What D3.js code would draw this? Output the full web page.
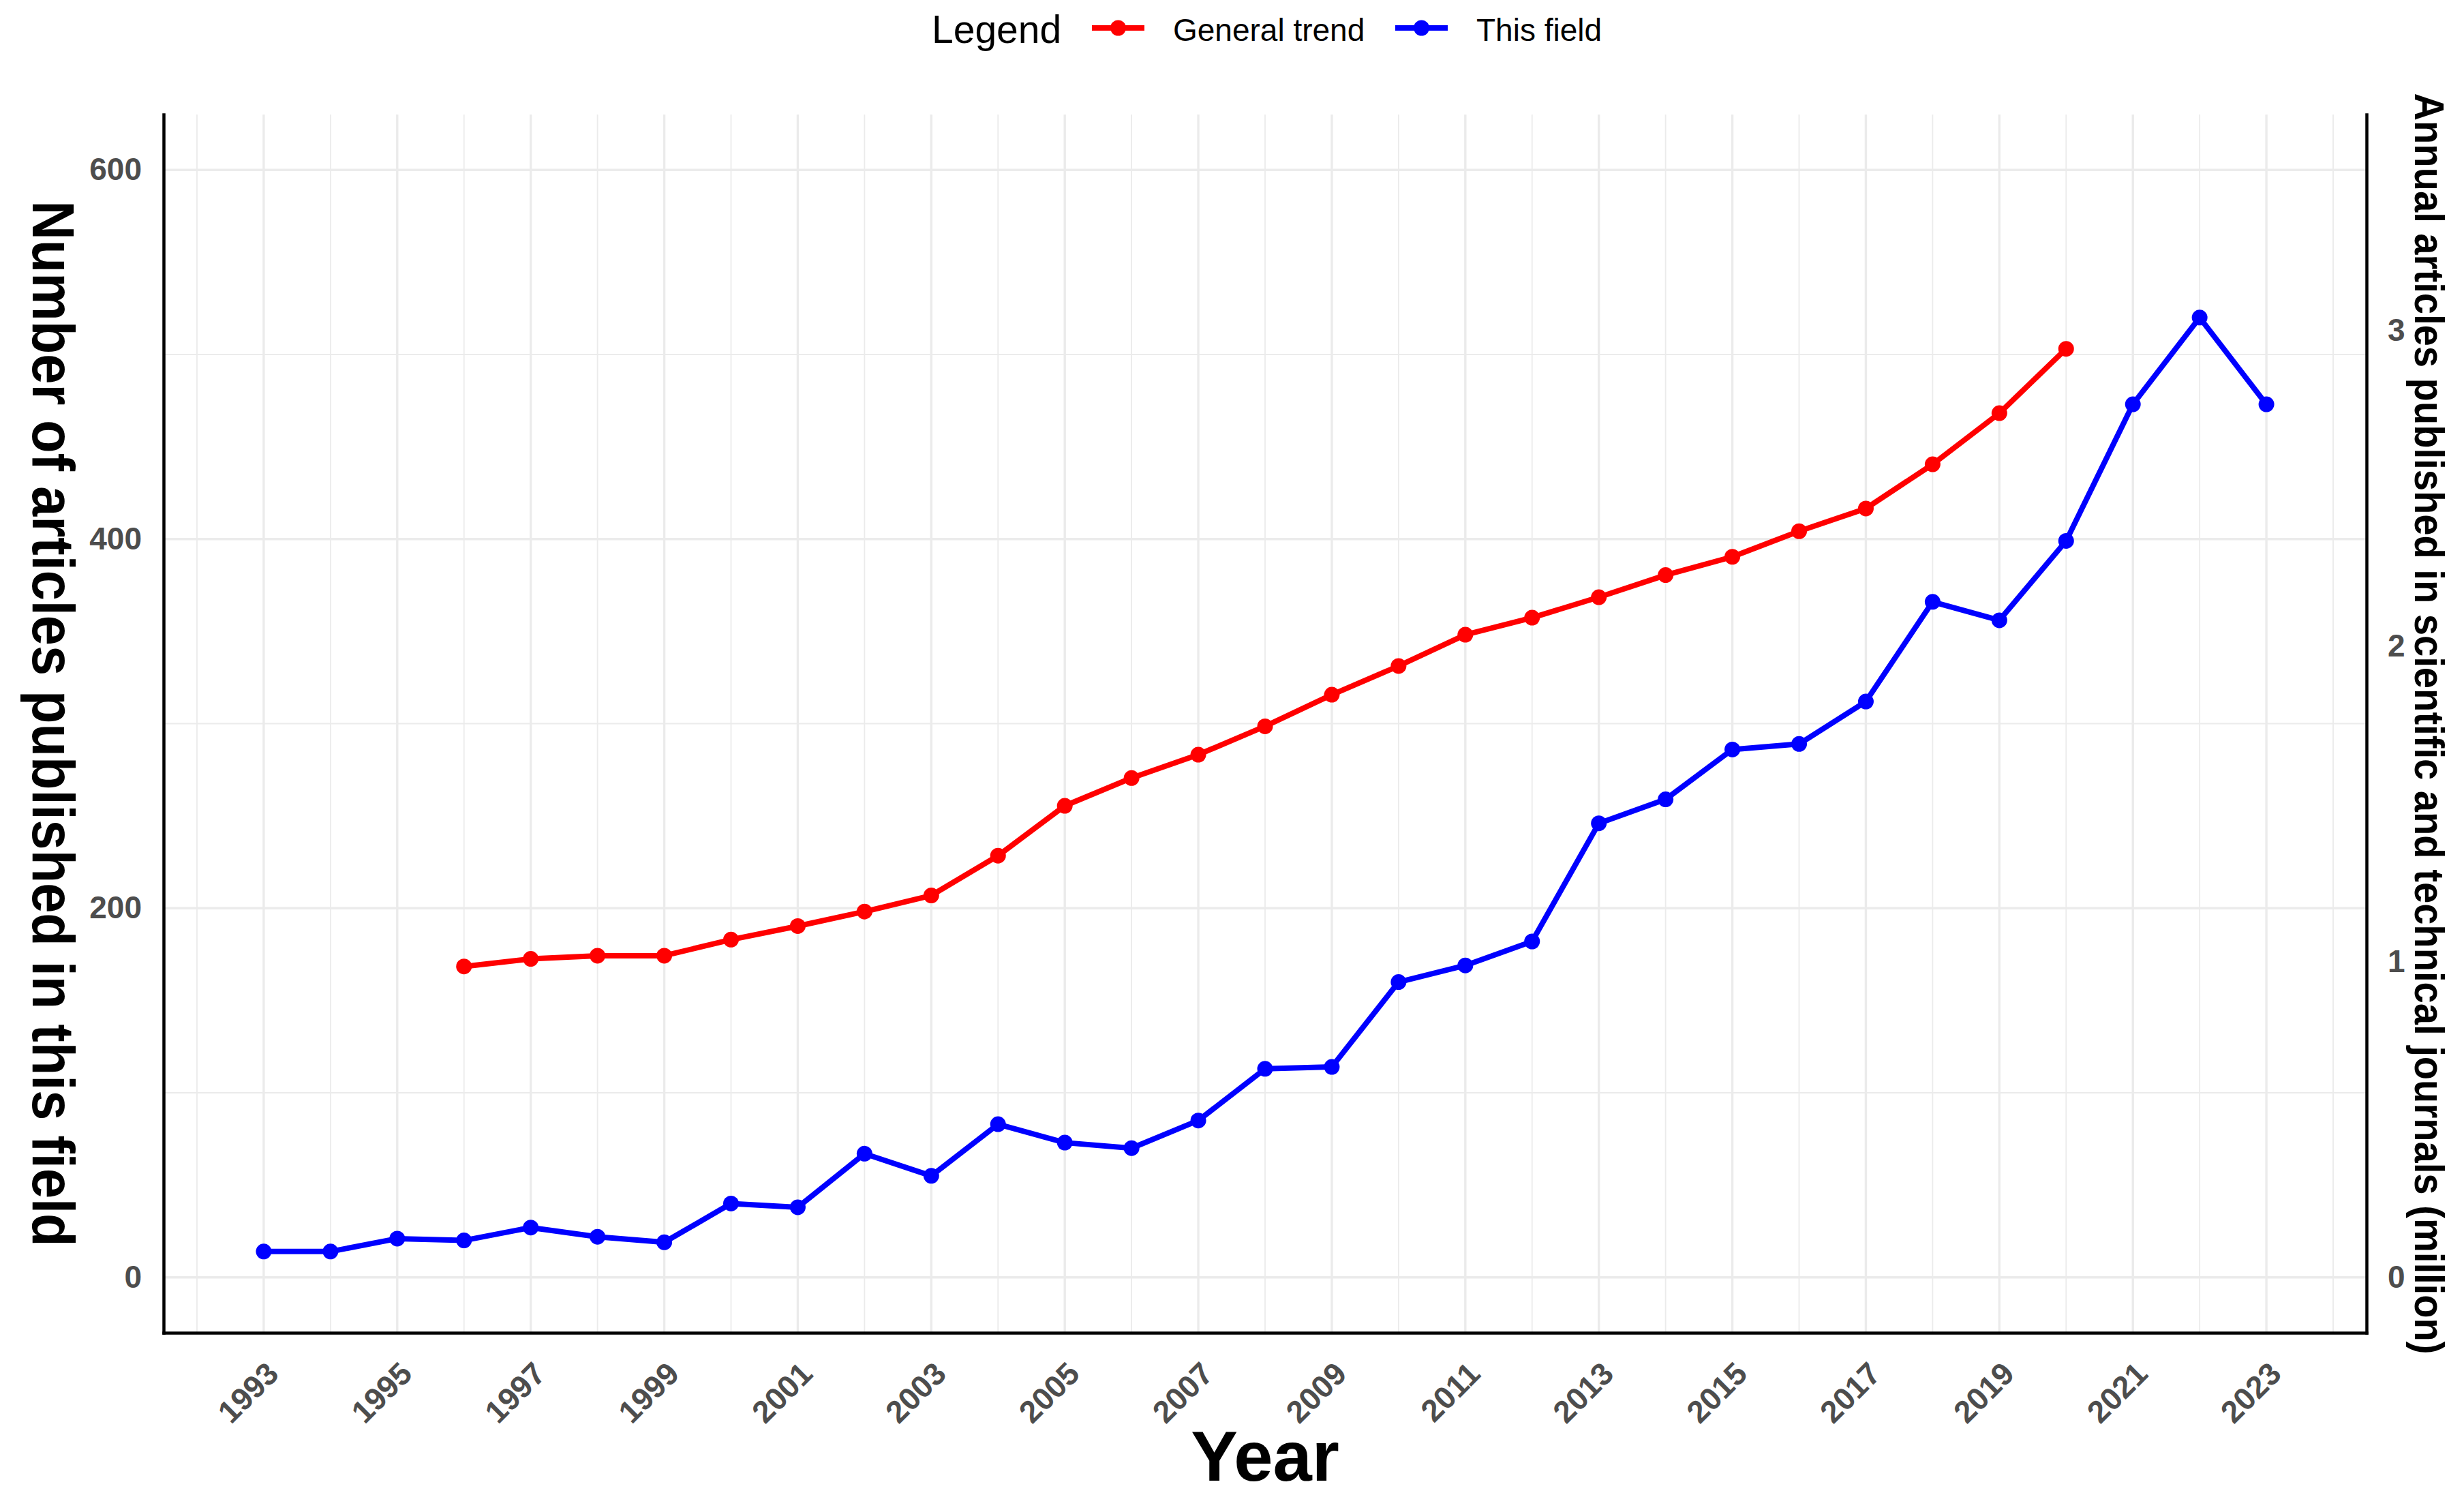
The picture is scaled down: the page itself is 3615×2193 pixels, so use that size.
<!DOCTYPE html>
<html>
<head>
<meta charset="utf-8">
<script src="https://cdn.jsdelivr.net/npm/d3@7"></script>
<style>
  html, body { margin: 0; padding: 0; background: #ffffff; }
  svg { display: block; }
  text { font-family: "Liberation Sans", Arial, Helvetica, sans-serif; }
</style>
</head>
<body>
<svg id="chart" width="3615" height="2193"></svg>
<script>
// ---------------- data ----------------
const fieldYears = [1993,1994,1995,1996,1997,1998,1999,2000,2001,2002,2003,2004,2005,2006,2007,2008,2009,2010,2011,2012,2013,2014,2015,2016,2017,2018,2019,2020,2021,2022,2023];
const fieldCounts = [14,14,21,20,27,22,19,40,38,67,55,83,73,70,85,113,114,160,169,182,246,259,286,289,312,366,356,399,473,520,473];

const generalYears = [1996,1997,1998,1999,2000,2001,2002,2003,2004,2005,2006,2007,2008,2009,2010,2011,2012,2013,2014,2015,2016,2017,2018,2019,2020];
// annual articles in scientific & technical journals (million)
const generalMillions = [0.985,1.009,1.019,1.019,1.070,1.113,1.159,1.210,1.336,1.494,1.582,1.656,1.746,1.846,1.937,2.036,2.090,2.155,2.225,2.283,2.364,2.436,2.576,2.738,2.942];

const SEC_FACTOR = 171; // secondary axis: left value = million * SEC_FACTOR

const xMajorTicks = [1993,1995,1997,1999,2001,2003,2005,2007,2009,2011,2013,2015,2017,2019,2021,2023];
const xMinorTicks = [1992,1994,1996,1998,2000,2002,2004,2006,2008,2010,2012,2014,2016,2018,2020,2022,2024];
const yMajorTicks = [0,200,400,600];
const yMinorTicks = [100,300,500];
const yRightTicks = [0,1,2,3];

const seriesNames = ["General trend","This field"];
const seriesColors = ["#FF0000","#0000FF"];

// ---------------- layout ----------------
const L = 240, R = 3472, T = 168, B = 1955;
const svg = d3.select("#chart");

const x = d3.scaleLinear().domain([1991.5, 2024.5]).range([L, R]);
const y = d3.scaleLinear().domain([-30, 630]).range([B, T]);
const yR = d3.scaleLinear().domain([-30 / SEC_FACTOR, 630 / SEC_FACTOR]).range([B, T]);

const grid = svg.append("g");
const GRID = "#EBEBEB";
grid.selectAll(".vminor").data(xMinorTicks).enter().append("line")
  .attr("x1", d => x(d)).attr("x2", d => x(d)).attr("y1", T).attr("y2", B)
  .attr("stroke", GRID).attr("stroke-width", 1.8);
grid.selectAll(".hminor").data(yMinorTicks).enter().append("line")
  .attr("x1", L).attr("x2", R).attr("y1", d => y(d)).attr("y2", d => y(d))
  .attr("stroke", GRID).attr("stroke-width", 1.8);
grid.selectAll(".vmajor").data(xMajorTicks).enter().append("line")
  .attr("x1", d => x(d)).attr("x2", d => x(d)).attr("y1", T).attr("y2", B)
  .attr("stroke", GRID).attr("stroke-width", 3.4);
grid.selectAll(".hmajor").data(yMajorTicks).enter().append("line")
  .attr("x1", L).attr("x2", R).attr("y1", d => y(d)).attr("y2", d => y(d))
  .attr("stroke", GRID).attr("stroke-width", 3.4);

// ---------------- axes ----------------
function styleAxis(g) {
  g.select(".domain").attr("stroke", "#000").attr("stroke-width", 4.5).attr("stroke-linecap", "square");
  g.selectAll(".tick line").remove();
  g.selectAll(".tick text").attr("fill", "#4D4D4D").attr("font-size", 46).attr("font-weight", "bold")
    .attr("font-family", "'Liberation Sans', Arial, sans-serif");
}

const gx = svg.append("g").attr("transform", `translate(0,${B})`)
  .call(d3.axisBottom(x).tickValues(xMajorTicks).tickFormat(d3.format("d")).tickSizeOuter(0).tickSizeInner(0));
styleAxis(gx);
gx.selectAll(".tick text")
  .attr("x", 0).attr("y", 0).attr("dy", 0)
  .attr("text-anchor", "end")
  .attr("transform", "translate(24,63) rotate(-45)");

const gyl = svg.append("g").attr("transform", `translate(${L},0)`)
  .call(d3.axisLeft(y).tickValues(yMajorTicks).tickSizeOuter(0).tickSizeInner(0).tickPadding(32));
styleAxis(gyl);

const gyr = svg.append("g").attr("transform", `translate(${R},0)`)
  .call(d3.axisRight(yR).tickValues(yRightTicks).tickFormat(d3.format("d")).tickSizeOuter(0).tickSizeInner(0).tickPadding(31));
styleAxis(gyr);

// ---------------- series ----------------
const generalData = generalYears.map((yr, i) => ({ x: yr, y: generalMillions[i] * SEC_FACTOR }));
const fieldData = fieldYears.map((yr, i) => ({ x: yr, y: fieldCounts[i] }));
const allSeries = [generalData, fieldData];

const line = d3.line().x(d => x(d.x)).y(d => y(d.y));
const LW = 8, PR = 11.5;

allSeries.forEach((data, i) => {
  const g = svg.append("g");
  g.append("path").datum(data).attr("d", line)
    .attr("fill", "none").attr("stroke", seriesColors[i]).attr("stroke-width", LW)
    .attr("stroke-linejoin", "round").attr("stroke-linecap", "butt");
  g.selectAll("circle").data(data).enter().append("circle")
    .attr("cx", d => x(d.x)).attr("cy", d => y(d.y)).attr("r", PR)
    .attr("fill", seriesColors[i]);
});

// ---------------- titles ----------------
svg.append("text").attr("x", (L + R) / 2).attr("y", 2172)
  .attr("text-anchor", "middle").attr("font-size", 103).attr("font-weight", "bold").attr("fill", "#000")
  .text("Year");

svg.append("text").attr("transform", `translate(48,${(T + B) / 2}) rotate(90)`)
  .attr("text-anchor", "middle").attr("font-size", 88).attr("font-weight", "bold").attr("fill", "#000")
  .attr("textLength", 1534).attr("lengthAdjust", "spacingAndGlyphs")
  .text("Number of articles published in this field");

svg.append("text").attr("transform", `translate(3543,${(T + B) / 2}) rotate(90)`)
  .attr("text-anchor", "middle").attr("font-size", 62).attr("font-weight", "bold").attr("fill", "#000")
  .attr("textLength", 1850).attr("lengthAdjust", "spacingAndGlyphs")
  .text("Annual articles published in scientific and technical journals (million)");

// ---------------- legend ----------------
const lg = svg.append("g");
lg.append("text").attr("x", 1367).attr("y", 63).attr("font-size", 57).attr("fill", "#000").text("Legend");
const keyX = [1602, 2047];
const labelX = [1721, 2166];
seriesNames.forEach((name, i) => {
  lg.append("line").attr("x1", keyX[i]).attr("x2", keyX[i] + 77).attr("y1", 41).attr("y2", 41)
    .attr("stroke", seriesColors[i]).attr("stroke-width", LW);
  lg.append("circle").attr("cx", keyX[i] + 38.5).attr("cy", 41).attr("r", PR).attr("fill", seriesColors[i]);
  lg.append("text").attr("x", labelX[i]).attr("y", 60).attr("font-size", 46).attr("fill", "#000").text(name);
});
</script>
</body>
</html>
